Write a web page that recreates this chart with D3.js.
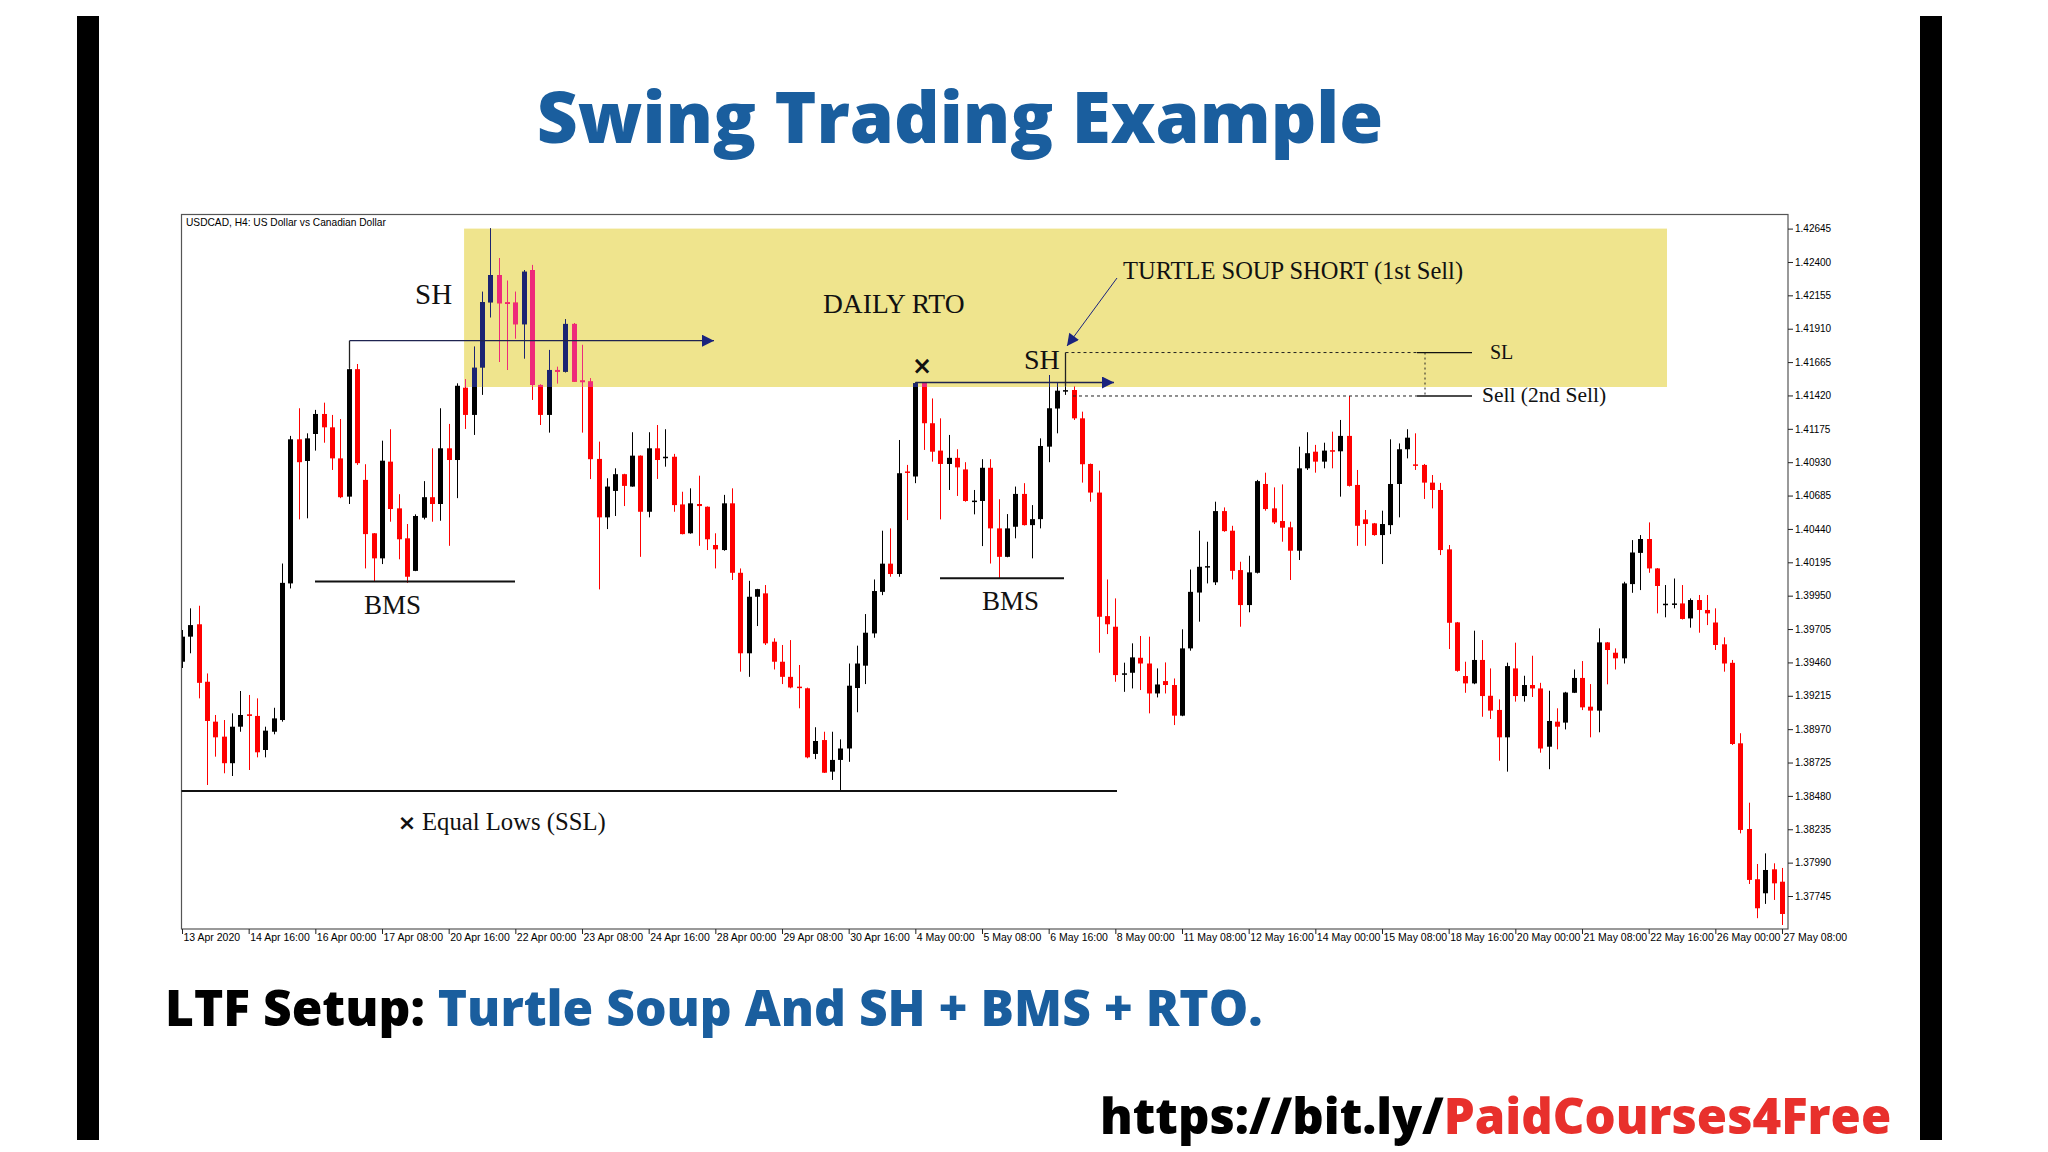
<!DOCTYPE html>
<html>
<head>
<meta charset="utf-8">
<script src="https://cdn.jsdelivr.net/npm/d3@7"></script>
<style>
  body { margin: 0; background: #fff; }
  svg { display: block; }
</style>
</head>
<body>
<div class="chart"></div>
<script>
let svgWidth = 2048;
let svgHeight = 1152;

// USDCAD H4 candles, bar 0 = 13 Apr 2020 08:00
const opens = [
  1.39465, 1.39649, 1.39740, 1.39318, 1.39025, 1.38915, 1.38720, 1.38988, 1.39079, 1.39067,
  1.38817, 1.38951, 1.39037, 1.40040, 1.41098, 1.40939, 1.41137, 1.41284, 1.41186, 1.40958,
  1.40677, 1.41613, 1.40800, 1.40408, 1.40224, 1.40934, 1.40591, 1.40371, 1.40132, 1.40522,
  1.40673, 1.40623, 1.41032, 1.40946, 1.41477, 1.41277, 1.41626, 1.42104, 1.42304, 1.42103,
  1.42101, 1.41943, 1.42341, 1.41497, 1.41277, 1.41607, 1.41595, 1.41945, 1.41529, 1.41522,
  1.40954, 1.40525, 1.40719, 1.40842, 1.40751, 1.40978, 1.40566, 1.41032, 1.40962, 1.40970,
  1.40620, 1.40408, 1.40623, 1.40603, 1.40322, 1.40285, 1.40628, 1.40118, 1.39527, 1.39942,
  1.39967, 1.39612, 1.39465, 1.39354, 1.39282, 1.39270, 1.38788, 1.38890, 1.38658, 1.38744,
  1.38828, 1.39272, 1.39436, 1.39673, 1.39978, 1.40185, 1.40109, 1.40862, 1.40825, 1.41509,
  1.41216, 1.41015, 1.40917, 1.40962, 1.40877, 1.40641, 1.40645, 1.40889, 1.40444, 1.40235,
  1.40456, 1.40697, 1.40468, 1.40512, 1.41044, 1.41324, 1.41448, 1.41460, 1.41252, 1.40917,
  1.40707, 1.39800, 1.39722, 1.39372, 1.39384, 1.39494, 1.39452, 1.39232, 1.39323, 1.39294,
  1.39069, 1.39563, 1.39973, 1.40156, 1.40048, 1.40571, 1.40427, 1.40138, 1.39881, 1.40118,
  1.40770, 1.40591, 1.40498, 1.40452, 1.40280, 1.40885, 1.41007, 1.40934, 1.41018, 1.41010,
  1.41123, 1.40763, 1.40510, 1.40481, 1.40395, 1.40468, 1.40770, 1.41025, 1.40914, 1.40910,
  1.40780, 1.40726, 1.40290, 1.39754, 1.39360, 1.39306, 1.39478, 1.39215, 1.39111, 1.38910,
  1.39416, 1.39213, 1.39294, 1.39269, 1.38841, 1.39025, 1.39018, 1.39237, 1.39346, 1.39135,
  1.39106, 1.39607, 1.39531, 1.39490, 1.40035, 1.40264, 1.40366, 1.40150, 1.39881, 1.39884,
  1.39893, 1.39783, 1.39918, 1.39845, 1.39753, 1.39593, 1.39457, 1.38866, 1.38237, 1.37868,
  1.37765, 1.37941, 1.37850
];
const highs = [
  1.39698, 1.39857, 1.39876, 1.39379, 1.39074, 1.39037, 1.39086, 1.39250, 1.39221, 1.39196,
  1.38988, 1.39127, 1.40186, 1.41123, 1.41326, 1.41142, 1.41314, 1.41367, 1.41277, 1.41247,
  1.41620, 1.41651, 1.40915, 1.40410, 1.41088, 1.41172, 1.40695, 1.40476, 1.40547, 1.40791,
  1.41032, 1.41326, 1.41211, 1.41509, 1.41538, 1.41778, 1.42181, 1.42647, 1.42427, 1.42262,
  1.42181, 1.42341, 1.42378, 1.41500, 1.41754, 1.41630, 1.41979, 1.41950, 1.41791, 1.41545,
  1.41081, 1.40812, 1.40885, 1.40845, 1.41150, 1.40980, 1.41150, 1.41203, 1.41172, 1.40991,
  1.40713, 1.40738, 1.40831, 1.40605, 1.40408, 1.40690, 1.40738, 1.40150, 1.40059, 1.40000,
  1.40028, 1.39637, 1.39588, 1.39624, 1.39441, 1.39275, 1.38984, 1.38951, 1.38951, 1.38895,
  1.39452, 1.39583, 1.39815, 1.40069, 1.40427, 1.40444, 1.41093, 1.40910, 1.41515, 1.41512,
  1.41398, 1.41252, 1.41130, 1.41025, 1.40930, 1.40726, 1.40952, 1.40952, 1.40658, 1.40549,
  1.40751, 1.40776, 1.40615, 1.41105, 1.41570, 1.41509, 1.41490, 1.41485, 1.41301, 1.40920,
  1.40868, 1.40069, 1.39930, 1.39458, 1.39600, 1.39654, 1.39649, 1.39416, 1.39460, 1.39342,
  1.39703, 1.40142, 1.40427, 1.40346, 1.40640, 1.40598, 1.40463, 1.40199, 1.40243, 1.40800,
  1.40853, 1.40745, 1.40767, 1.40493, 1.41044, 1.41150, 1.41057, 1.41073, 1.41154, 1.41240,
  1.41416, 1.40873, 1.40579, 1.40484, 1.40574, 1.41098, 1.41068, 1.41172, 1.41142, 1.40917,
  1.40836, 1.40778, 1.40322, 1.39757, 1.39465, 1.39693, 1.39624, 1.39416, 1.39189, 1.39458,
  1.39605, 1.39362, 1.39509, 1.39310, 1.39252, 1.39123, 1.39244, 1.39408, 1.39470, 1.39301,
  1.39710, 1.39610, 1.39563, 1.40052, 1.40358, 1.40395, 1.40488, 1.40153, 1.40028, 1.40076,
  1.40028, 1.39930, 1.39955, 1.39955, 1.39857, 1.39644, 1.39478, 1.38940, 1.38430, 1.37980,
  1.38058, 1.37985, 1.37951
];
const lows = [
  1.39419, 1.39527, 1.39196, 1.38560, 1.38768, 1.38646, 1.38626, 1.38951, 1.38670, 1.38763,
  1.38763, 1.38932, 1.39025, 1.40003, 1.40510, 1.40518, 1.41015, 1.41073, 1.40873, 1.40666,
  1.40623, 1.40910, 1.40150, 1.40052, 1.40182, 1.40493, 1.40217, 1.40044, 1.40130, 1.40510,
  1.40493, 1.40500, 1.40316, 1.40666, 1.41174, 1.41130, 1.41424, 1.41994, 1.41667, 1.41607,
  1.41839, 1.41692, 1.41387, 1.41203, 1.41147, 1.41509, 1.41590, 1.41520, 1.41147, 1.40806,
  1.39996, 1.40439, 1.40535, 1.40608, 1.40750, 1.40235, 1.40525, 1.40807, 1.40897, 1.40566,
  1.40400, 1.40405, 1.40316, 1.40285, 1.40150, 1.40280, 1.40065, 1.39392, 1.39354, 1.39727,
  1.39588, 1.39408, 1.39301, 1.39270, 1.39123, 1.38756, 1.38750, 1.38648, 1.38597, 1.38511,
  1.38730, 1.39094, 1.39301, 1.39641, 1.39954, 1.40089, 1.40089, 1.40505, 1.40776, 1.41020,
  1.40934, 1.40510, 1.40726, 1.40682, 1.40640, 1.40547, 1.40314, 1.40186, 1.40077, 1.40232,
  1.40371, 1.40465, 1.40224, 1.40444, 1.40930, 1.41142, 1.41424, 1.41240, 1.40780, 1.40640,
  1.39531, 1.39668, 1.39318, 1.39244, 1.39269, 1.39257, 1.39086, 1.39203, 1.39232, 1.39000,
  1.39065, 1.39546, 1.39759, 1.40040, 1.40028, 1.40419, 1.40069, 1.39722, 1.39828, 1.40113,
  1.40574, 1.40476, 1.40346, 1.40065, 1.40212, 1.40873, 1.40853, 1.40885, 1.40885, 1.40677,
  1.40751, 1.40316, 1.40316, 1.40390, 1.40182, 1.40402, 1.40525, 1.40958, 1.40873, 1.40660,
  1.40591, 1.40248, 1.39558, 1.39392, 1.39237, 1.39300, 1.39061, 1.39045, 1.38738, 1.38658,
  1.39172, 1.39172, 1.39206, 1.38797, 1.38676, 1.38822, 1.38968, 1.39235, 1.39110, 1.38910,
  1.38947, 1.39299, 1.39408, 1.39452, 1.39971, 1.39991, 1.40118, 1.39820, 1.39791, 1.39857,
  1.39775, 1.39715, 1.39678, 1.39734, 1.39551, 1.39392, 1.38854, 1.38205, 1.37833, 1.37582,
  1.37687, 1.37716, 1.37532
];
const closes = [
  1.39649, 1.39734, 1.39310, 1.39030, 1.38910, 1.38720, 1.38988, 1.39074, 1.39067, 1.38800,
  1.38959, 1.39049, 1.40044, 1.41098, 1.40930, 1.41105, 1.41284, 1.41186, 1.40958, 1.40673,
  1.41613, 1.40923, 1.40402, 1.40224, 1.40941, 1.40586, 1.40364, 1.40089, 1.40535, 1.40673,
  1.40623, 1.41032, 1.40946, 1.41491, 1.41277, 1.41623, 1.42104, 1.42304, 1.42097, 1.42092,
  1.41943, 1.42328, 1.41497, 1.41277, 1.41607, 1.41595, 1.41945, 1.41522, 1.41522, 1.40952,
  1.40525, 1.40751, 1.40842, 1.40756, 1.40978, 1.40566, 1.41032, 1.40946, 1.40970, 1.40615,
  1.40402, 1.40628, 1.40608, 1.40364, 1.40290, 1.40628, 1.40118, 1.39527, 1.39942, 1.39998,
  1.39600, 1.39465, 1.39354, 1.39276, 1.39271, 1.38763, 1.38883, 1.38650, 1.38744, 1.38828,
  1.39289, 1.39452, 1.39678, 1.39984, 1.40185, 1.40109, 1.40849, 1.40851, 1.41509, 1.41216,
  1.41007, 1.40917, 1.40962, 1.40892, 1.40645, 1.40648, 1.40889, 1.40444, 1.40235, 1.40444,
  1.40697, 1.40468, 1.40512, 1.41049, 1.41326, 1.41455, 1.41459, 1.41252, 1.40915, 1.40707,
  1.39795, 1.39740, 1.39367, 1.39380, 1.39497, 1.39452, 1.39232, 1.39298, 1.39294, 1.39069,
  1.39563, 1.39978, 1.40162, 1.40167, 1.40571, 1.40424, 1.40132, 1.39881, 1.40121, 1.40791,
  1.40586, 1.40488, 1.40449, 1.40280, 1.40885, 1.40996, 1.40934, 1.41015, 1.41010, 1.41123,
  1.40756, 1.40463, 1.40476, 1.40395, 1.40476, 1.40770, 1.41025, 1.41110, 1.40907, 1.40780,
  1.40726, 1.40285, 1.39751, 1.39398, 1.39306, 1.39478, 1.39213, 1.39106, 1.38910, 1.39433,
  1.39213, 1.39294, 1.39269, 1.38828, 1.39030, 1.38988, 1.39239, 1.39346, 1.39130, 1.39106,
  1.39607, 1.39551, 1.39490, 1.40040, 1.40267, 1.40366, 1.40150, 1.40021, 1.39891, 1.39893,
  1.39779, 1.39918, 1.39845, 1.39820, 1.39588, 1.39452, 1.38861, 1.38230, 1.37863, 1.37655,
  1.37936, 1.37838, 1.37613
];

const tickBars = [0, 8, 16, 24, 32, 40, 48, 56, 64, 72, 80, 88, 96, 104, 112, 120, 128, 136, 144, 152, 160, 168, 176, 184, 192];
const tickLabels = ["13 Apr 2020", "14 Apr 16:00", "16 Apr 00:00", "17 Apr 08:00", "20 Apr 16:00", "22 Apr 00:00",
  "23 Apr 08:00", "24 Apr 16:00", "28 Apr 00:00", "29 Apr 08:00", "30 Apr 16:00", "4 May 00:00", "5 May 08:00",
  "6 May 16:00", "8 May 00:00", "11 May 08:00", "12 May 16:00", "14 May 00:00", "15 May 08:00", "18 May 16:00",
  "20 May 00:00", "21 May 08:00", "22 May 16:00", "26 May 00:00", "27 May 08:00"];
const priceTicks = [1.42645, 1.42400, 1.42155, 1.41910, 1.41665, 1.41420, 1.41175, 1.40930, 1.40685, 1.40440,
  1.40195, 1.39950, 1.39705, 1.39460, 1.39215, 1.38970, 1.38725, 1.38480, 1.38235, 1.37990, 1.37745];

// chart frame
let frame = { left: 181.5, right: 1788, top: 214.5, bottom: 929 };

let svg = d3.select(".chart")
    .append("svg")
    .attr("width", svgWidth)
    .attr("height", svgHeight);

svg.append("rect").attr("width", svgWidth).attr("height", svgHeight).attr("fill", "#fff");

// black side bars
svg.append("rect").attr("x", 77).attr("y", 16).attr("width", 22).attr("height", 1124).attr("fill", "#000");
svg.append("rect").attr("x", 1920).attr("y", 16).attr("width", 22).attr("height", 1124).attr("fill", "#000");

let x = d3.scaleLinear().domain([0, 192]).range([182, 1782]);
let y = d3.scaleLinear().domain([1.37745, 1.42645]).range([896, 228.6]);

let cx = i => Math.round(x(i)) + 0.5;

let defs = svg.append("defs");
defs.append("clipPath").attr("id", "plot")
  .append("rect")
    .attr("x", frame.left).attr("y", frame.top)
    .attr("width", frame.right - frame.left).attr("height", frame.bottom - frame.top);

// daily RTO zone
let rto = { from: 33.85, to: 178.2, top: 1.42645, bottom: 1.41482 };
defs.append("clipPath").attr("id", "zone")
  .append("rect")
    .attr("x", x(rto.from)).attr("y", y(rto.top))
    .attr("width", x(rto.to) - x(rto.from)).attr("height", y(rto.bottom) - y(rto.top));

svg.append("rect")
    .attr("x", x(rto.from)).attr("y", y(rto.top))
    .attr("width", x(rto.to) - x(rto.from)).attr("height", y(rto.bottom) - y(rto.top))
    .attr("fill", "#efe48d");

let candles = opens.map((o, i) => ({ i: i, o: o, h: highs[i], l: lows[i], c: closes[i] }));

function drawCandles(g, bullColor, bearColor) {
  let col = d => d.c > d.o ? bullColor : bearColor;
  g.selectAll("line")
    .data(candles)
    .enter()
    .append("line")
    .attr("x1", d => cx(d.i))
    .attr("x2", d => cx(d.i))
    .attr("y1", d => y(d.h))
    .attr("y2", d => y(d.l))
    .attr("stroke", col)
    .attr("stroke-width", 1);
  g.selectAll("rect")
    .data(candles)
    .enter()
    .append("rect")
    .attr("x", d => cx(d.i) - 2.5)
    .attr("width", 5)
    .attr("y", d => y(Math.max(d.o, d.c)))
    .attr("height", d => Math.max(1.5, y(Math.min(d.o, d.c)) - y(Math.max(d.o, d.c))))
    .attr("fill", col);
}

drawCandles(svg.append("g").attr("clip-path", "url(#plot)"), "#000", "#ff0000");
drawCandles(svg.append("g").attr("clip-path", "url(#zone)"), "#1b2472", "#ee2a7a");

// frame
svg.append("rect")
    .attr("x", frame.left).attr("y", frame.top)
    .attr("width", frame.right - frame.left).attr("height", frame.bottom - frame.top)
    .attr("fill", "none").attr("stroke", "#555").attr("stroke-width", 1.2);

svg.append("text")
    .attr("x", 186).attr("y", 226)
    .style("font-family", "'Liberation Sans', Arial, sans-serif")
    .style("font-size", "10.2px")
    .attr("fill", "#000")
    .text("USDCAD, H4:  US Dollar vs Canadian Dollar");

// axes
let rightAxis = d3.axisRight(y).tickValues(priceTicks).tickFormat(d3.format(".5f")).tickSize(5).tickPadding(2);
svg.append("g")
    .attr("transform", `translate(${frame.right}, 0)`)
    .call(rightAxis)
    .call(g => g.select(".domain").remove())
    .call(g => g.selectAll("line").attr("stroke", "#222"))
    .selectAll("text")
    .style("font-family", "'Liberation Sans', Arial, sans-serif")
    .style("font-size", "10px")
    .attr("fill", "#000");

let bottomAxis = d3.axisBottom(x).tickValues(tickBars).tickFormat((d, i) => tickLabels[i]).tickSize(5);
svg.append("g")
    .attr("transform", `translate(0, ${frame.bottom})`)
    .call(bottomAxis)
    .call(g => g.select(".domain").remove())
    .call(g => g.selectAll("line").attr("stroke", "#222"))
    .selectAll("text")
    .attr("text-anchor", "start")
    .attr("x", 1)
    .attr("y", 5)
    .style("font-family", "'Liberation Sans', Arial, sans-serif")
    .style("font-size", "10.5px")
    .attr("fill", "#000");

// annotations
let ann = svg.append("g");
let serif = "'Liberation Serif', 'Times New Roman', serif";

defs.append("marker").attr("id", "arrow").attr("viewBox", "0 0 10 10")
    .attr("refX", 10).attr("refY", 5).attr("markerWidth", 14).attr("markerHeight", 12)
    .attr("markerUnits", "userSpaceOnUse").attr("orient", "auto")
  .append("path").attr("d", "M0,0 L10,5 L0,10 Z").attr("fill", "#1a237e");

function line(x1, y1, x2, y2, stroke, extra) {
  let l = ann.append("line").attr("x1", x1).attr("y1", y1).attr("x2", x2).attr("y2", y2)
      .attr("stroke", stroke).attr("stroke-width", 1.3);
  if (extra) extra(l);
  return l;
}
function label(tx, ty, str, size, anchor) {
  return ann.append("text").attr("x", tx).attr("y", ty)
      .attr("text-anchor", anchor || "start")
      .style("font-family", serif).style("font-size", size + "px")
      .attr("fill", "#111").text(str);
}

// first swing high projection
line(cx(20), y(1.41822), cx(20), y(highs[20]), "#222");
line(cx(20), y(1.41822), 714, y(1.41822), "#1e2350", l => l.attr("marker-end", "url(#arrow)"));
label(415, 304, "SH", 29);
label(823, 313, "DAILY RTO", 27.5);

// second swing high projection
line(cx(88), y(highs[88]), 1114, y(highs[88]), "#1e2350", l => l.attr("marker-end", "url(#arrow)"));
label(1024, 369, "SH", 28);
label(922, 374, "×", 24, "middle").style("font-weight", "bold").style("font-family", "'DejaVu Sans', sans-serif");

// turtle soup
line(1117, 278, 1067, 346, "#1a237e", l => l.attr("marker-end", "url(#arrow)").attr("stroke-width", 1));
label(1123, 279, "TURTLE SOUP SHORT (1st Sell)", 24.5);

// SL and sell levels
line(cx(106), y(1.41735), cx(106), y(highs[106]), "#222");
line(cx(106), y(1.41735), 1417, y(1.41735), "#222", l => l.attr("stroke-dasharray", "3,3").attr("stroke-width", 1));
line(1417, y(1.41735), 1472, y(1.41735), "#111");
line(1073, y(1.41416), 1417, y(1.41416), "#222", l => l.attr("stroke-dasharray", "3,3").attr("stroke-width", 1));
line(1417, y(1.41416), 1472, y(1.41416), "#111");
line(1425, y(1.41735), 1425, y(1.41416), "#222", l => l.attr("stroke-dasharray", "2,3").attr("stroke-width", 1));
label(1490, 359, "SL", 20);
label(1482, 402, "Sell (2nd Sell)", 21.5);

// BMS lines
line(315, y(1.40054), 515, y(1.40054), "#111", l => l.attr("stroke-width", 2));
label(364, 614, "BMS", 27);
line(940, y(1.40077), 1064, y(1.40077), "#111", l => l.attr("stroke-width", 2));
label(982, 610, "BMS", 27);

// equal lows
line(frame.left, y(1.38515), 1117, y(1.38515), "#111", l => l.attr("stroke-width", 2));
label(407, 830, "×", 22, "middle").style("font-weight", "bold").style("font-family", "'DejaVu Sans', sans-serif");
label(422, 830, "Equal Lows (SSL)", 24.7);

// page texts
svg.append("text")
    .attr("x", 960).attr("y", 143)
    .attr("text-anchor", "middle")
    .style("font-family", "'Open Sans', sans-serif")
    .style("font-weight", 800)
    .style("font-size", "71px")
    .attr("fill", "#1a5e9e")
    .text("Swing Trading Example");

let sub = svg.append("text")
    .attr("x", 165).attr("y", 1026)
    .style("font-family", "'Open Sans', sans-serif")
    .style("font-weight", 800)
    .style("font-size", "49.7px");
sub.append("tspan").attr("fill", "#000").text("LTF Setup: ");
sub.append("tspan").attr("fill", "#1a5e9e").text("Turtle Soup And SH + BMS + RTO.");

let url = svg.append("text")
    .attr("x", 1100).attr("y", 1134)
    .style("font-family", "'Open Sans', sans-serif")
    .style("font-weight", 800)
    .style("font-size", "49px");
url.append("tspan").attr("fill", "#000").text("https://bit.ly/");
url.append("tspan").attr("fill", "#e8302c").text("PaidCourses4Free");
</script>
</body>
</html>
